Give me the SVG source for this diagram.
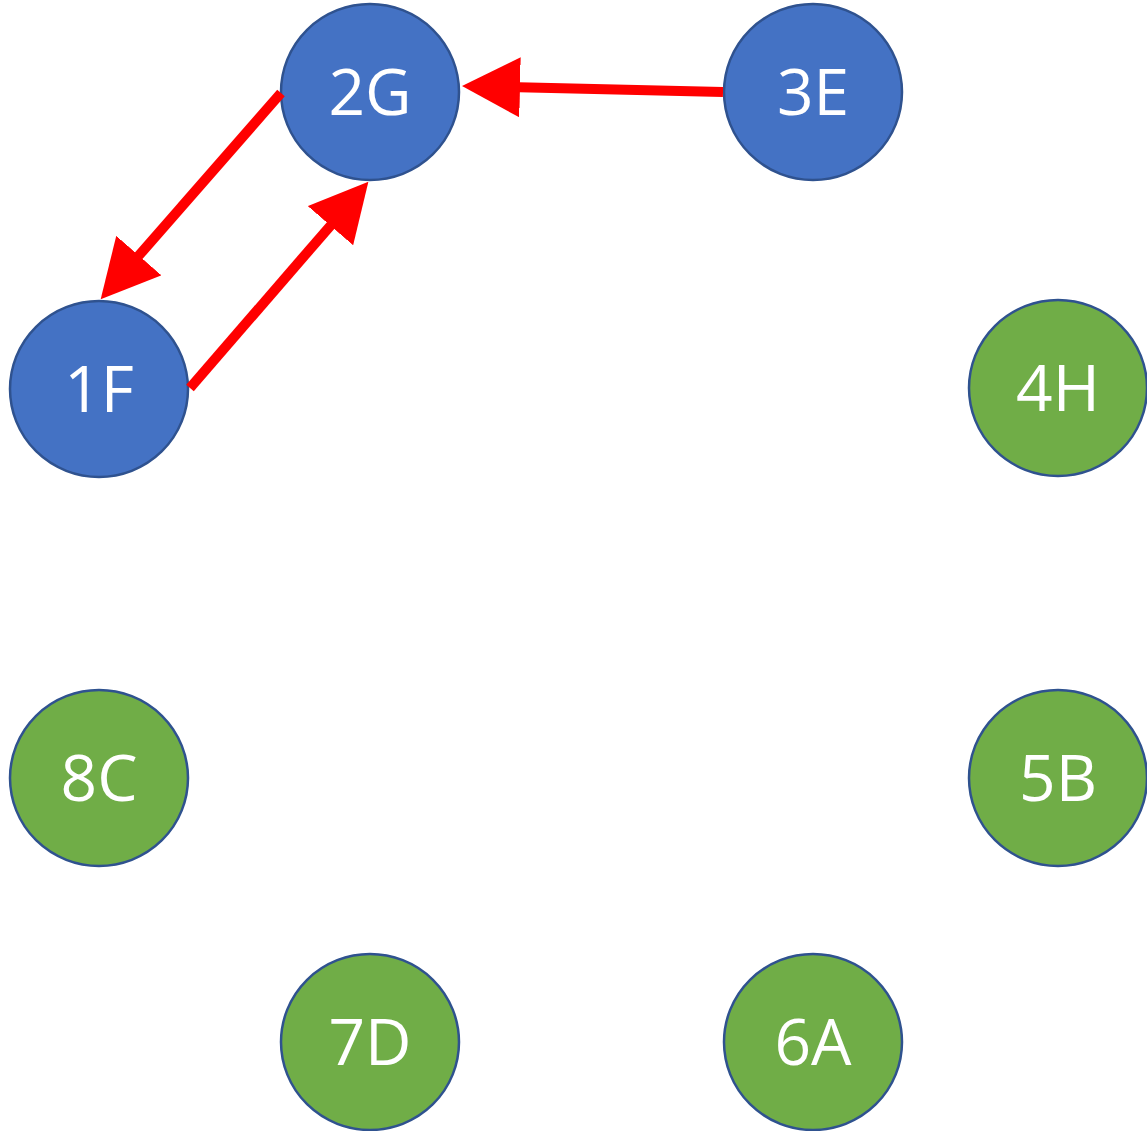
<svg xmlns="http://www.w3.org/2000/svg" width="1147" height="1131" viewBox="0 0 1147 1131">
<style>
.node{stroke:#2F528F;stroke-width:2.5}
.blue{fill:#4472C4}
.green{fill:#70AD47}
.lbl{font-family:"Open Sans","Noto Sans",sans-serif;font-size:64px;fill:#FFFFFF;text-anchor:middle}
.edge{stroke:#FF0000;stroke-width:10;fill:none;stroke-linecap:butt}
</style>
<defs>
<marker id="ah" viewBox="0 0 58 60" markerWidth="58" markerHeight="60" markerUnits="userSpaceOnUse" refX="1" refY="30" orient="auto">
<path d="M0,0 L58,30 L0,60 z" fill="#FF0000"/>
</marker>
</defs>
<rect width="1147" height="1131" fill="#FFFFFF"/>
<g id="n2G"><ellipse class="node blue" cx="370" cy="92" rx="89" ry="88"/><text class="lbl" x="370" y="115">2G</text></g>
<g id="n3E"><ellipse class="node blue" cx="813" cy="92" rx="89" ry="88"/><text class="lbl" x="813" y="115">3E</text></g>
<g id="n1F"><ellipse class="node blue" cx="99" cy="389" rx="89" ry="88"/><text class="lbl" x="99" y="412">1F</text></g>
<g id="n4H"><ellipse class="node green" cx="1058" cy="388" rx="89" ry="88"/><text class="lbl" x="1058" y="411">4H</text></g>
<g id="n8C"><ellipse class="node green" cx="99" cy="778" rx="89" ry="88"/><text class="lbl" x="99" y="801">8C</text></g>
<g id="n5B"><ellipse class="node green" cx="1058" cy="778" rx="89" ry="88"/><text class="lbl" x="1058" y="801">5B</text></g>
<g id="n7D"><ellipse class="node green" cx="370" cy="1042" rx="89" ry="88"/><text class="lbl" x="370" y="1065">7D</text></g>
<g id="n6A"><ellipse class="node green" cx="813" cy="1042" rx="89" ry="88"/><text class="lbl" x="813" y="1065">6A</text></g>
<g id="edges">
<path class="edge" d="M723,92 L519,87.3" marker-end="url(#ah)"/>
<path class="edge" d="M281,93 L138.2,256.3" marker-end="url(#ah)"/>
<path class="edge" d="M190,388 L331.1,224.9" marker-end="url(#ah)"/>
</g>
</svg>
